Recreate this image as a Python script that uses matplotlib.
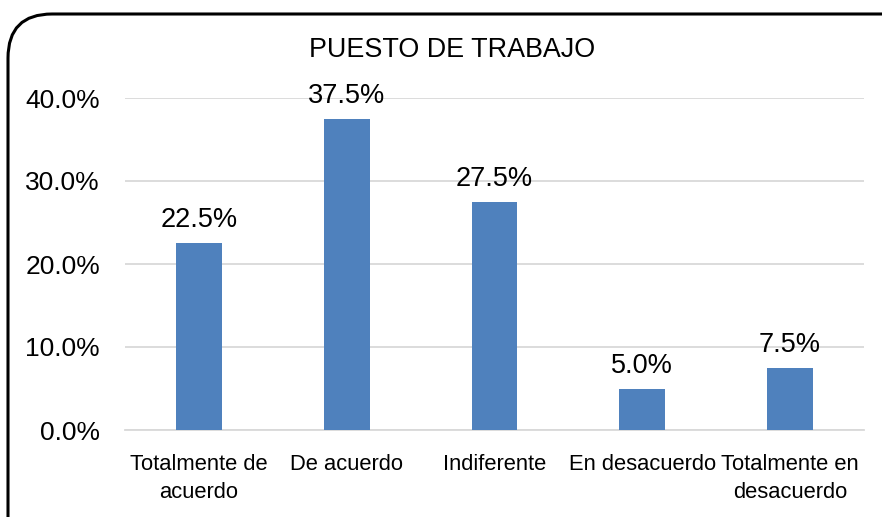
import matplotlib
matplotlib.use("Agg")
import matplotlib.pyplot as plt
from matplotlib.patches import FancyBboxPatch

categories = ["Totalmente de\nacuerdo", "De acuerdo", "Indiferente",
              "En desacuerdo", "Totalmente en\ndesacuerdo"]
values = [22.5, 37.5, 27.5, 5.0, 7.5]
yticks = [0, 10, 20, 30, 40]

plt.rcParams["font.family"] = ["Liberation Sans", "DejaVu Sans"]

fig = plt.figure(figsize=(8.82, 5.17), dpi=100)
ax = fig.add_axes([125 / 882, 1 - 430 / 517, (864 - 125) / 882, (430 - 98) / 517])

x = range(len(categories))
bars = ax.bar(x, values, width=0.31, color="#4F81BD", zorder=3)
for b, v in zip(bars, values):
    ax.text(b.get_x() + b.get_width() / 2, v + 1.2, f"{v:.1f}%",
            ha="center", va="bottom", fontsize=19.5)

ax.set_xlim(-0.5, len(categories) - 0.5)
ax.set_ylim(0, 40)
ax.set_yticks(yticks)
ax.set_yticklabels([f"{t:.1f}%" for t in yticks], fontsize=19)
ax.set_xticks(list(x))
ax.set_xticklabels(categories, fontsize=15.8, linespacing=1.45)
ax.tick_params(axis="both", length=0)
ax.tick_params(axis="x", pad=17)
ax.tick_params(axis="y", pad=18)
ax.grid(axis="y", color="#D9D9D9", lw=1.3, zorder=0)
for s in ["top", "right", "left"]:
    ax.spines[s].set_visible(False)
ax.spines["bottom"].set_color("#D9D9D9")
ax.spines["bottom"].set_linewidth(1.3)

fig.text(452 / 882, 1 - 50 / 517, "PUESTO DE TRABAJO", ha="center", va="center", fontsize=19.4)

border = FancyBboxPatch((8 / 882, -0.2), 1.2, 1 - 14 / 517 + 0.2,
                        boxstyle="round,pad=0,rounding_size=0.05",
                        transform=fig.transFigure, fill=False, ec="black", lw=2.2,
                        mutation_aspect=882 / 517)
fig.patches.append(border)

fig.savefig("out.png", dpi=100)
